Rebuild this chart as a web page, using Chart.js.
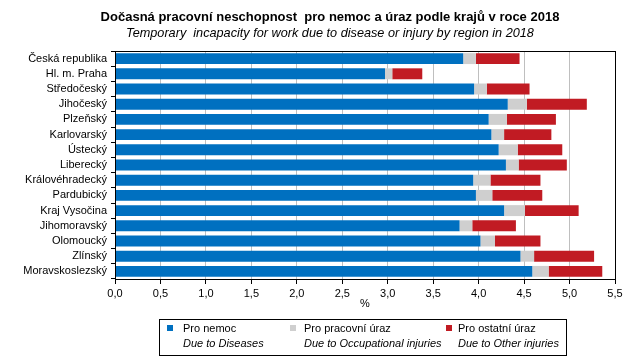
<!DOCTYPE html>
<html>
<head>
<meta charset="utf-8">
<script src="https://cdn.jsdelivr.net/npm/chart.js@4"></script>
<style>
  html, body { margin: 0; padding: 0; background: #fff; }
  #wrap { position: relative; width: 643px; height: 364px; font-family: "Liberation Sans", Arial, sans-serif; color: #000; }
  #chart { position: absolute; left: 0; top: 0; }
  .title { position: absolute; left: 0; width: 660px; text-align: center; white-space: pre; }
  #t1 { top: 9px; font-size: 13px; font-weight: bold; line-height: 16px; }
  #t2 { top: 26px; font-size: 12.7px; font-style: italic; line-height: 15px; }
  #legend { position: absolute; left: 159px; top: 319px; width: 406px; height: 35px; border: 1px solid #000; font-size: 11px; }
  .sq { position: absolute; top: 5px; width: 6px; height: 6px; }
  .cz { position: absolute; top: 1px; white-space: nowrap; line-height: 14px; }
  .en { position: absolute; top: 16px; white-space: nowrap; line-height: 14px; font-style: italic; }
</style>
</head>
<body>
<div id="wrap">
  <canvas id="chart" width="643" height="364"></canvas>
  <div class="title" id="t1">Dočasná pracovní neschopnost  pro nemoc a úraz podle krajů v roce 2018</div>
  <div class="title" id="t2">Temporary  incapacity for work due to disease or injury by region in 2018</div>
  <div id="legend"></div>
</div>
<script>
// Data
const regions = [
  "Česká republika", "Hl. m. Praha", "Středočeský", "Jihočeský", "Plzeňský",
  "Karlovarský", "Ústecký", "Liberecký", "Královéhradecký", "Pardubický",
  "Kraj Vysočina", "Jihomoravský", "Olomoucký", "Zlínský", "Moravskoslezský"
]
const disease = [3.83, 2.97, 3.95, 4.32, 4.11, 4.14, 4.22, 4.30, 3.94, 3.97, 4.28, 3.79, 4.02, 4.46, 4.59]
const occupational = [0.14, 0.08, 0.14, 0.21, 0.20, 0.14, 0.21, 0.14, 0.19, 0.18, 0.23, 0.14, 0.16, 0.15, 0.18]
const otherInjury = [0.48, 0.33, 0.47, 0.66, 0.54, 0.52, 0.49, 0.53, 0.55, 0.55, 0.59, 0.48, 0.50, 0.66, 0.59]

const seriesCz = ["Pro nemoc", "Pro pracovní úraz", "Pro ostatní úraz"]
const seriesEn = ["Due to Diseases", "Due to Occupational injuries", "Due to Other injuries"]
const colors = ["#0070c0", "#cfcfcf", "#c11b23"]

const fontFamily = "'Liberation Sans', Arial, sans-serif"

// Black frame round the plot area
const frame = {
  id: "frame",
  afterDraw(chart) {
    const { ctx, chartArea: a } = chart
    ctx.save()
    ctx.strokeStyle = "#000"
    ctx.lineWidth = 1
    ctx.strokeRect(Math.round(a.left) + 0.5, Math.round(a.top) + 0.5, Math.round(a.right - a.left), Math.round(a.bottom - a.top))
    ctx.restore()
  },
}

const ctx = document.getElementById("chart").getContext("2d")
new Chart(ctx, {
  type: "bar",
  data: {
    labels: regions,
    datasets: [disease, occupational, otherInjury].map((values, i) => ({
      label: seriesCz[i],
      data: values,
      backgroundColor: colors[i],
      borderWidth: 0,
      barPercentage: 0.72,
      categoryPercentage: 1,
    })),
  },
  options: {
    indexAxis: "y",
    responsive: false,
    animation: false,
    layout: { padding: { left: 0, right: 28, top: 51, bottom: 53 } },
    scales: {
      x: {
        stacked: true,
        min: 0,
        max: 5.5,
        ticks: {
          stepSize: 0.5,
          color: "#000",
          padding: 3,
          font: { family: fontFamily, size: 11 },
          callback: (v) => v.toFixed(1).replace(".", ","),
        },
        grid: { color: "#bfbfbf", tickColor: "#000", tickLength: 5 },
        border: { color: "#000" },
        title: { display: true, text: "%", color: "#000", padding: 0, font: { family: fontFamily, size: 11 } },
        afterFit: (scale) => { scale.height = 32 },
      },
      y: {
        stacked: true,
        ticks: { color: "#000", padding: 4, font: { family: fontFamily, size: 11 }, autoSkip: false },
        grid: { drawOnChartArea: false, color: "#000", tickLength: 4, offset: true },
        border: { color: "#000" },
        afterFit: (scale) => { scale.width = 115 },
      },
    },
    plugins: {
      legend: { display: false },
      tooltip: { enabled: false },
    },
  },
  plugins: [frame],
})

// HTML legend with Czech and English lines
const legendEl = document.getElementById("legend")
const sqLeft = [7, 130, 286]
const textLeft = [23, 144, 298]
seriesCz.forEach((name, i) => {
  legendEl.insertAdjacentHTML("beforeend",
    `<div class="sq" style="left:${sqLeft[i]}px;background:${colors[i]}"></div>` +
    `<div class="cz" style="left:${textLeft[i]}px">${name}</div>` +
    `<div class="en" style="left:${textLeft[i]}px">${seriesEn[i]}</div>`)
})
</script>
</body>
</html>
